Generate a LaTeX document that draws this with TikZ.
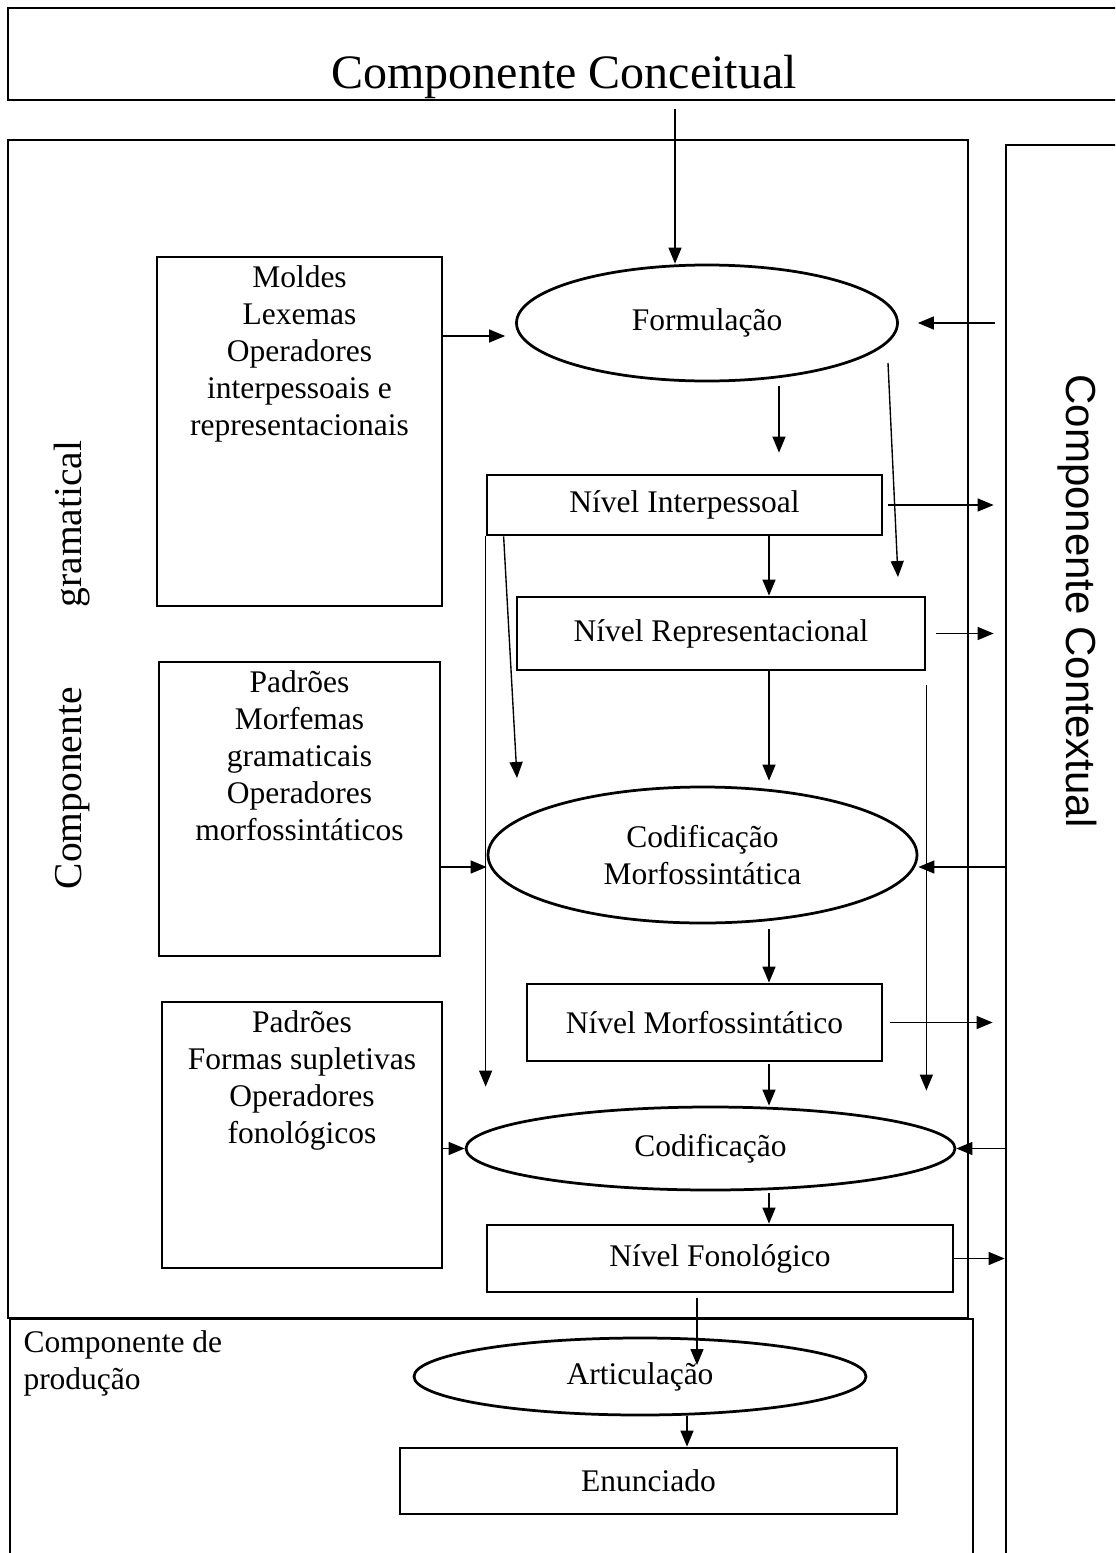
\documentclass[tikz,border=0pt]{standalone}
\usepackage{fontspec}
\setmainfont{Liberation Serif}
\newfontfamily\ctxsans{Liberation Sans}
\usetikzlibrary{positioning,arrows.meta,shapes.geometric}
\newcommand\boxfont{\fontsize{12.6}{14.8}\selectfont}
\newcommand\titlefont{\fontsize{19.2}{22}\selectfont}
\newcommand\sidefont{\fontsize{15.8}{18}\selectfont}
\newcommand\ctxfont{\ctxsans\fontsize{16.8}{19}\selectfont}

\begin{document}
\begin{tikzpicture}[x=0.4pt, y=-0.4pt,
    frame/.style={rectangle, draw, line width=1.1pt, inner sep=0pt},
    level/.style={rectangle, draw, line width=1.1pt, inner sep=0pt, font=\boxfont},
    proc/.style={ellipse, draw, line width=1.1pt, inner sep=0pt, font=\boxfont, align=center},
    listbox/.style={rectangle, draw, line width=1.1pt, inner sep=0pt},
    listtext/.style={anchor=north, align=center, inner sep=0pt, font=\boxfont, yshift=-4pt},
    arr/.style={-{Triangle[length=6.4pt,width=5.2pt]}, line width=0.55pt}
  ]
    \useasboundingbox (0,0) rectangle (1115,1553);
    \clip (0,0) rectangle (1115,1553);

    % components
    \node[frame, minimum width=446.8pt, minimum height=36.8pt] (conceitual) at (566.5,54) {};
    \node[frame, minimum width=384pt, minimum height=471.2pt] (gramatical) at (488,729) {};
    \node[frame, minimum width=49.6pt, minimum height=582pt] (contextual) at (1068,872.5) {};
    \node[frame, minimum width=385.2pt, minimum height=112.4pt] (producao) at (491.5,1459.5) {};

    \node[font=\titlefont, anchor=base] (conctext) at (564,88) {Componente Conceitual};
    \node[font=\ctxfont, rotate=-90] (ctxtext) at (1077,601) {Componente Contextual};
    \node[font=\sidefont, rotate=90] (gramtext) at (72,665) {Componente\hspace{32pt}gramatical};
    \node[font=\boxfont, align=left, anchor=north west, inner sep=0pt] (prodtext) at (23,1330) {Componente de\\produção};

    % stores
    \node[listbox, minimum width=114pt, minimum height=139.6pt,
          label={[listtext]north:{Moldes\\Lexemas\\Operadores\\interpessoais e\\representacionais}}] (moldes) at (299.5,431.5) {};
    \node[listbox, minimum width=112.4pt, minimum height=117.6pt,
          label={[listtext]north:{Padrões\\Morfemas\\gramaticais\\Operadores\\morfossintáticos}}] (padroesm) at (299.5,809) {};
    \node[listbox, minimum width=112pt, minimum height=106.4pt,
          label={[listtext]north:{Padrões\\Formas supletivas\\Operadores\\fonológicos}}] (padroesf) at (302,1135) {};

    % levels and operations
    \node[proc, minimum width=152.4pt, minimum height=46.4pt] (form) at (707,323) {Formulação};
    \node[level, minimum width=158pt, minimum height=24pt] (interp) at (684.5,505) {Nível Interpessoal};
    \node[level, minimum width=163.2pt, minimum height=29.2pt] (repr) at (721,633.5) {Nível Representacional};
    \node[proc, minimum width=171.6pt, minimum height=54.4pt] (codmorf) at (702.5,855) {Codificação\\Morfossintática};
    \node[level, minimum width=142pt, minimum height=30.8pt] (morf) at (704.5,1022.5) {Nível Morfossintático};
    \node[proc, minimum width=195.6pt, minimum height=33.2pt] (cod) at (710.5,1148.5) {Codificação};
    \node[level, minimum width=186.4pt, minimum height=26.8pt] (fonol) at (720,1258.5) {Nível Fonológico};
    \node[proc, minimum width=180.8pt, minimum height=30.8pt] (artic) at (640,1376.5) {Articulação};
    \node[level, minimum width=198.8pt, minimum height=26.4pt] (enun) at (648.5,1481) {Enunciado};

    \coordinate (colA) at (675,0);
    \coordinate (colB) at (779,0);
    \coordinate (colC) at (769,0);
    \coordinate (colD) at (697,0);
    \coordinate (colE) at (687,0);
    \coordinate (yl) at (0,336);
    \coordinate (ym) at ([yshift=-4.8pt]codmorf.west);
    \coordinate (fr1) at (888,363);
    \coordinate (fr2) at (898,577);
    \coordinate (sl) at (517,778);
    \coordinate (artin) at (697,1365);

    \draw[arr, shorten <=3.2pt] (conceitual.south -| colA) -- (form.north -| colA);
    \draw[arr, shorten >=4pt] (moldes.east |- yl) -- (form.west |- yl);
    \draw[arr, shorten <=4pt, shorten >=7.6pt] (contextual.west |- form.east) -- (form.east);
    \draw[arr, shorten <=1.6pt, shorten >=8.4pt] (form.south -| colB) -- (interp.north -| colB);
    \draw[arr] (fr1) -- (fr2);
    \draw[arr, shorten <=2pt, shorten >=4.4pt] (interp.east) -- (contextual.west |- interp.east);
    \draw[arr] (interp.south -| colC) -- (repr.north -| colC);
    \draw[arr, shorten <=4pt, shorten >=4.4pt] (repr.east) -- (contextual.west |- repr.east);
    \draw[arr, shorten >=2pt] (repr.south -| colC) -- (codmorf.north -| colC);
    \draw[arr, shorten >=7.6pt] (interp.south west) -- (interp.south west |- cod.north);
    \draw[arr] ([xshift=7.2pt]interp.south west) -- (sl);
    \draw[arr, shorten <=5.6pt, shorten >=6pt] (repr.south east) -- (repr.south east |- cod.north);
    \draw[arr] (padroesm.east |- ym) -- (ym);
    \draw[arr] (contextual.west |- ym) -- (codmorf.east |- ym);
    \draw[arr, shorten <=2pt] (codmorf.south -| colC) -- (morf.north -| colC);
    \draw[arr, shorten <=2.8pt, shorten >=4.8pt] (morf.east) -- (contextual.west |- morf.east);
    \draw[arr, shorten <=0.8pt] (morf.south -| colC) -- (cod.north -| colC);
    \draw[arr] (padroesf.east |- cod.west) -- (cod.west);
    \draw[arr] (contextual.west |- cod.east) -- (cod.east);
    \draw[arr, shorten <=0.8pt] (cod.south -| colC) -- (fonol.north -| colC);
    \draw[arr] (fonol.east) -- (contextual.west |- fonol.east);
    \draw[arr, shorten <=2pt] (fonol.south -| colD) -- (artin);
    \draw[arr] (artic.south -| colE) -- (enun.north -| colE);
\end{tikzpicture}
\end{document}
